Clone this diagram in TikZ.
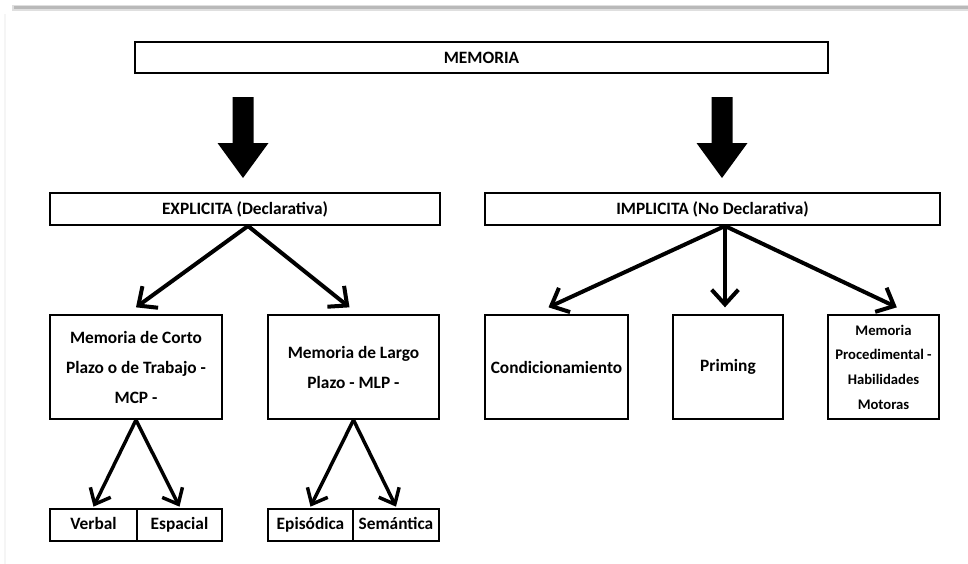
\documentclass[tikz,border=0pt]{standalone}
\usepackage{fontspec}
\setmainfont{Carlito}
\usetikzlibrary{arrows.meta,calc}
\begin{document}
\begin{tikzpicture}[x=0.75pt,y=-0.75pt,
  box/.style={draw, line width=1.5pt, inner sep=0pt, align=center,
    font=\bfseries\fontsize{13}{22.5}\selectfont},
  leaf/.style={box, minimum height=32*0.75pt, text height=9pt, text depth=2.5pt},
  link/.style={line width=3pt, line cap=round,
    -{Straight Barb[length=11pt,width=20pt,line width=3pt]}},
  sublink/.style={line width=2.6pt, line cap=round,
    -{Straight Barb[length=10pt,width=17pt,line width=2.6pt]}},
  bigarrow/.style={fill=black},
]
\useasboundingbox (0,0) rectangle (968,564);
\fill[white] (0,0) rectangle (968,564);

% frame shading along the top and left edge
\draw[gray!25, line width=4pt] (12,8) -- (968,8);
\draw[gray!55, line width=2pt] (14,7.5) -- (968,7.5);
\draw[gray!8, line width=1.5pt] (5,14) -- (5,564);

% root
\node[box, line width=2pt, minimum width=693*0.75pt, minimum height=31*0.75pt]
  (mem) at (481.5,57.5) {MEMORIA};

% two main branches
\node[box, minimum width=390*0.75pt, minimum height=32*0.75pt]
  (expl) at (245,209) {EXPLICITA (Declarativa)};
\node[box, minimum width=455*0.75pt, minimum height=32*0.75pt]
  (impl) at (712.5,209) {IMPLICITA (No Declarativa)};

% block arrows from the root
\coordinate (ba1) at (243,97);
\coordinate (ba2) at (722,97);
\foreach \c in {ba1,ba2}{
  \fill[bigarrow] (\c) ++(-10.5,0) -- ++(21,0) -- ++(0,46) -- ++(15,0)
    -- ++(-25.5,35) -- ++(-25.5,-35) -- ++(15,0) -- cycle;
}

% explicit memory
\node[box, minimum width=172*0.75pt, minimum height=104*0.75pt]
  (mcp) at (136,367) {Memoria de Corto\\Plazo o de Trabajo -\\MCP -};
\node[box, minimum width=171*0.75pt, minimum height=104*0.75pt]
  (mlp) at (353.5,367) {Memoria de Largo\\Plazo - MLP -};

\node[leaf, minimum width=87*0.75pt] (verbal) at (93.5,525) {Verbal};
\node[leaf, minimum width=85*0.75pt] (espacial) at (179.5,525) {Espacial};
\node[leaf, minimum width=85*0.75pt] (episodica) at (310.5,525) {Episódica};
\node[leaf, minimum width=86*0.75pt] (semantica) at (396,525) {Semántica};

% implicit memory
\node[box, minimum width=143*0.75pt, minimum height=104*0.75pt]
  (cond) at (556.5,367) {Condicionamiento};
\node[box, minimum width=110*0.75pt, minimum height=104*0.75pt]
  (prim) at (728,367) {Priming};
\node[box, minimum width=111*0.75pt, minimum height=104*0.75pt,
  font=\bfseries\fontsize{11}{18.5}\selectfont]
  (proc) at (883.5,367) {Memoria\\Procedimental -\\Habilidades\\Motoras};

% connectors
\draw[link] ($(expl.south)+(3,0)$) -- ([yshift=5pt]mcp.north);
\draw[link] ($(expl.south)+(3,0)$) -- ([xshift=-3pt,yshift=5pt]mlp.north);
\coordinate (isrc) at ($(impl.south)+(12.5,0)$);
\draw[link] (isrc) -- ([xshift=-6pt,yshift=5pt]cond.north);
\draw[link] (isrc) -- ([yshift=5pt]isrc |- prim.north);
\draw[link] (isrc) -- ([xshift=10pt,yshift=5pt]proc.north);

\draw[sublink] (mcp.south) -- ([yshift=1pt]verbal.north);
\draw[sublink] (mcp.south) -- ([yshift=1pt]espacial.north);
\draw[sublink] (mlp.south) -- ([yshift=1pt]episodica.north);
\draw[sublink] (mlp.south) -- ([yshift=1pt]semantica.north);
\end{tikzpicture}
\end{document}
